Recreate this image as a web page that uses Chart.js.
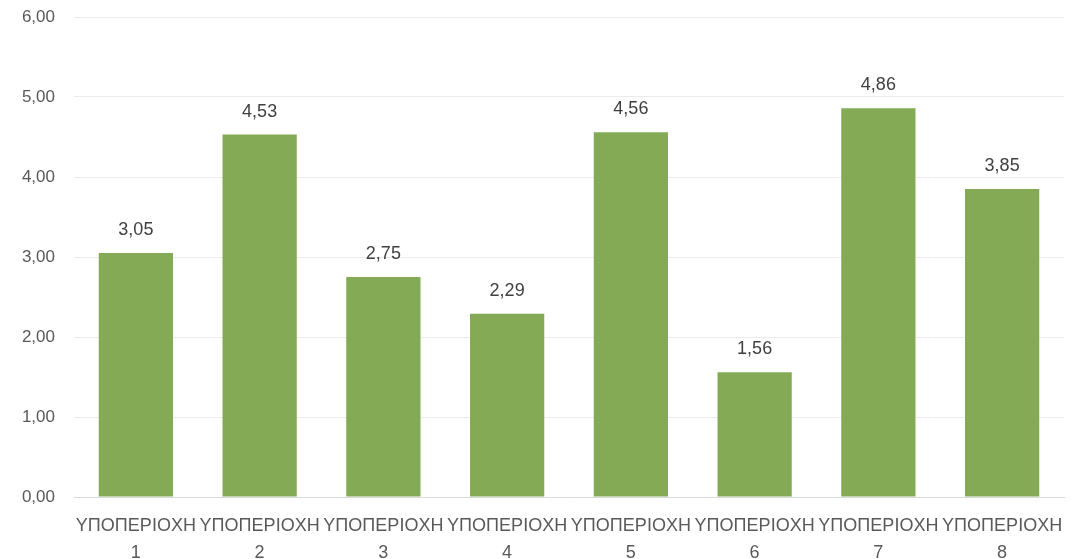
<!DOCTYPE html>
<html>
<head>
<meta charset="utf-8">
<script src="https://cdn.jsdelivr.net/npm/chart.js@4.4.0/dist/chart.umd.min.js"></script>
<style>
  html, body { margin: 0; padding: 0; background: #ffffff; }
  #box { width: 1084px; height: 559px; }
</style>
</head>
<body>
<div id="box"><canvas id="grafico"></canvas></div>
<script>
// Dados
const categorias = ['ΥΠΟΠΕΡΙΟΧΗ 1', 'ΥΠΟΠΕΡΙΟΧΗ 2', 'ΥΠΟΠΕΡΙΟΧΗ 3', 'ΥΠΟΠΕΡΙΟΧΗ 4', 'ΥΠΟΠΕΡΙΟΧΗ 5', 'ΥΠΟΠΕΡΙΟΧΗ 6', 'ΥΠΟΠΕΡΙΟΧΗ 7', 'ΥΠΟΠΕΡΙΟΧΗ 8'];
const valores = [3.05, 4.53, 2.75, 2.29, 4.56, 1.56, 4.86, 3.85];
const yTicks = [0, 1, 2, 3, 4, 5, 6];

const fonte = "'Liberation Sans Narrow', 'Arial Narrow', 'Liberation Sans', sans-serif";
const corTexto = '#595959';

function formatar(v) {
    return v.toFixed(2).replace('.', ',');
}

// rótulos acima das barras
const rotulos = {
    id: 'rotulos',
    afterDatasetsDraw(chart) {
        const ctx = chart.ctx;
        const meta = chart.getDatasetMeta(0);
        ctx.save();
        ctx.font = "18px " + fonte;
        ctx.fillStyle = '#404040';
        ctx.textAlign = 'center';
        ctx.textBaseline = 'middle';
        meta.data.forEach((bar, i) => {
            ctx.fillText(formatar(valores[i]), bar.x, bar.y - 23);
        });
        ctx.restore();
    }
};

const ctxGrafico = document.getElementById('grafico');
const chart = new Chart(ctxGrafico, {
    type: 'bar',
    data: {
        labels: categorias.map(c => c.split(' ')),
        datasets: [{
            data: valores,
            backgroundColor: '#84aa56',
            categoryPercentage: 0.6,
            barPercentage: 1
        }]
    },
    options: {
        responsive: true,
        maintainAspectRatio: false,
        animation: false,
        layout: {
            padding: { top: 17, right: 20, left: 0, bottom: 0 }
        },
        scales: {
            x: {
                grid: { display: false },
                border: { color: '#d9d9d9', width: 1 },
                ticks: {
                    color: corTexto,
                    font: { family: fonte, size: 18, lineHeight: 1.5 },
                    padding: 8,
                    maxRotation: 0,
                    autoSkip: false
                },
                afterFit(scale) { scale.height = 62; }
            },
            y: {
                min: 0,
                max: 6,
                afterBuildTicks(scale) {
                    scale.ticks = yTicks.map(v => ({ value: v }));
                },
                grid: { color: '#ebebeb', drawTicks: false },
                border: { display: false },
                ticks: {
                    color: corTexto,
                    font: { family: fonte, size: 17 },
                    padding: 19,
                    callback: v => formatar(v)
                },
                afterFit(scale) {
                    scale.width = 74;
                    scale.paddingTop = 0;
                    scale.paddingBottom = 0;
                }
            }
        },
        plugins: {
            legend: { display: false },
            tooltip: { enabled: false }
        }
    },
    plugins: [rotulos]
});
</script>
</body>
</html>
